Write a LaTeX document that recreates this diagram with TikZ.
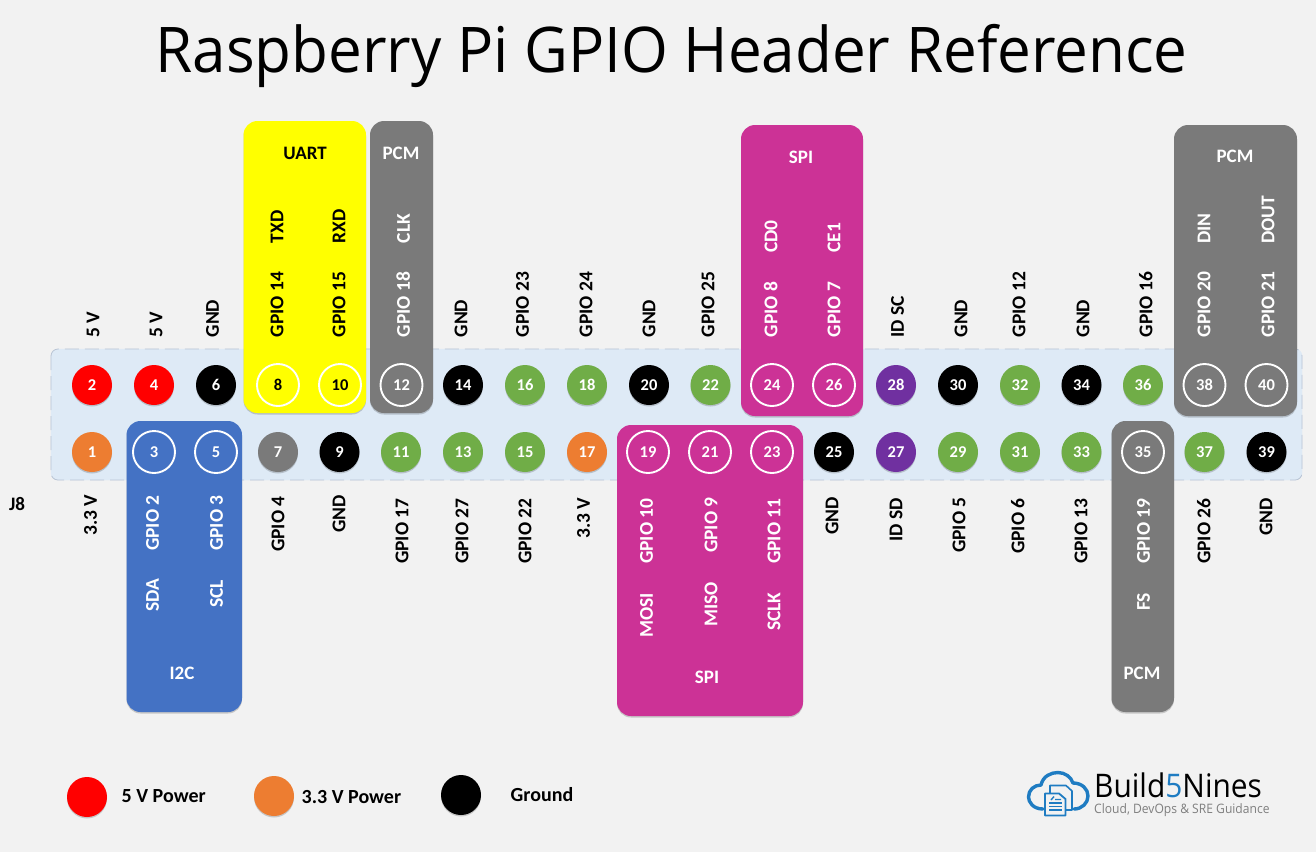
\documentclass[tikz,border=0pt]{standalone}
\usepackage{fontspec}
\setmainfont{Carlito}
\newfontfamily\titlefont{Open Sans}
\usetikzlibrary{shadows}
\definecolor{bgc}{HTML}{F2F2F2}
\definecolor{panelc}{HTML}{DEEAF6}
\definecolor{dashc}{HTML}{B9C4D4}
\definecolor{redc}{HTML}{FF0000}
\definecolor{orangec}{HTML}{ED7D31}
\definecolor{greenc}{HTML}{70AD47}
\definecolor{purplec}{HTML}{7030A0}
\definecolor{grayc}{HTML}{7A7A7A}
\definecolor{bluec}{HTML}{4472C4}
\definecolor{magc}{HTML}{CC3296}
\definecolor{yelc}{HTML}{FFFF00}
\definecolor{logoc}{HTML}{1F7CC2}
\definecolor{logog}{HTML}{7F7F7F}
\tikzset{
  softshadow/.style={drop shadow={shadow xshift=0pt,shadow yshift=-1.5pt,opacity=.18,fill=black}},
  groupbox/.style={rounded corners=14pt,softshadow},
  lbl/.style={rotate=90,anchor=west,inner sep=0pt,text height=12.6pt,text depth=0pt,font=\fontsize{19.5}{20}\selectfont\bfseries},
  grpcap/.style={inner sep=0pt,font=\fontsize{19}{20}\selectfont\bfseries},
  pinball/.style={circle,minimum size=40pt,inner sep=0pt,text=white,font=\fontsize{16.5}{17}\selectfont\bfseries},
  ringpin/.style={circle,minimum size=42pt,inner sep=0pt,draw=white,line width=1.9pt,font=\fontsize{16.5}{17}\selectfont\bfseries},
  legtext/.style={anchor=base west,inner sep=0pt,font=\fontsize{20}{21}\selectfont\bfseries,text=black},
}
\begin{document}
\begin{tikzpicture}[x=1pt,y=-1pt]
\useasboundingbox (0,0) rectangle (1316,852);
\fill[bgc] (0,0) rectangle (1316,852);
\node[anchor=base,inner sep=0pt,text=black,font=\titlefont\fontsize{63}{64}\selectfont,xscale=.955] (title) at (671.5,72) {Raspberry Pi GPIO Header Reference};
% header panel
\draw[panelc,fill=panelc,rounded corners=7pt] (51,349) rectangle (1302,480);
\draw[dashc,dash pattern=on 14pt off 6pt,line width=.8pt,rounded corners=7pt] (51,349) rectangle (1302,480);
% function groups
\fill[yelc,groupbox] (243.5,121) rectangle (366,413);
\fill[grayc,groupbox] (370,121) rectangle (433,413);
\fill[bluec,groupbox] (126.5,421) rectangle (242,712);
\fill[magc,groupbox] (617,425) rectangle (803,716);
\fill[magc,groupbox] (741,125) rectangle (863,416);
\fill[grayc,groupbox] (1174,125) rectangle (1297,416);
\fill[grayc,groupbox] (1111.5,421) rectangle (1174,712);
% plain pins
\foreach \n/\px/\py/\c/\tc in {
 2/92/385/redc/white,4/154/385/redc/white,6/216/385/black/white,14/463/385/black/white,
 16/525/385/greenc/white,18/587/385/greenc/white,20/649/385/black/white,22/710.5/385/greenc/white,
 28/896/385/purplec/white,30/958/385/black/white,32/1020/385/greenc/white,34/1081.5/385/black/white,36/1143/385/greenc/white,
 1/92/452/orangec/white,7/278/452/grayc/white,9/339.5/452/black/white,11/401/452/greenc/white,
 13/463/452/greenc/white,15/525/452/greenc/white,17/587/452/orangec/white,25/834/452/black/white,
 27/896/452/purplec/white,29/958/452/greenc/white,31/1020/452/greenc/white,33/1081.5/452/greenc/white,
 37/1204.5/452/greenc/white,39/1266.5/452/black/white}
 \node[pinball,fill=\c,text=\tc,softshadow] (pin\n) at (\px,\py) {\n};
% ringed pins
\foreach \n/\px/\py/\tc in {
 8/278/385/black,10/340/385/black,12/401.5/385/white,24/772/385/white,26/834/385/white,38/1204.5/385/white,40/1266.5/385/white,
 3/154/452/white,5/216/452/white,19/648/452/white,21/710/452/white,23/772/452/white,35/1143/452/white}
 \node[ringpin,text=\tc] (pin\n) at (\px,\py) {\n};
% black labels
\foreach \px/\py/\t [count=\i] in {
 93/337.5/5 V,156/337.5/5 V,212.5/337.5/GND,277/337.5/GPIO 14,339/337.5/GPIO 15,
 461/337.5/GND,522.5/337.5/GPIO 23,586/337.5/GPIO 24,649/337.5/GND,708/337.5/GPIO 25,
 897.5/337.5/ID SC,961/337.5/GND,1019/337.5/GPIO 12,1083/337.5/GND,1146/337.5/GPIO 16,
 277/243.5/TXD,339/243.5/RXD,
 90.5/536/3.3 V,278/552/GPIO 4,339/533/GND,402/564/GPIO 17,462/564/GPIO 27,525/564/GPIO 22,
 583.5/539/3.3 V,832/535/GND,896/542/ID SD,959/553/GPIO 5,1018/554/GPIO 6,1081/564/GPIO 13,
 1204/564/GPIO 26,1266/536/GND}
 \node[lbl,text=black] (blk\i) at (\px,\py) {\t};
% white labels
\foreach \px/\py/\t [count=\i] in {
 403.5/337.5/GPIO 18,403.5/243.5/CLK,771/337.5/GPIO 8,771/253/CD0,834/337.5/GPIO 7,834/253/CE1,
 1204/337.5/GPIO 20,1204/244/DIN,1268/337.5/GPIO 21,1268/244/DOUT,
 152.5/551/GPIO 2,216.5/551/GPIO 3,152.5/612/SDA,216.5/608/SCL,
 646.5/564/GPIO 10,711/553/GPIO 9,774/564/GPIO 11,646.5/638/MOSI,711/627/MISO,774/631/SCLK,
 1143.5/564/GPIO 19,1143.5/611/FS}
 \node[lbl,text=white] (wht\i) at (\px,\py) {\t};
% group captions
\node[grpcap,text=black] (capuart) at (305,153) {UART};
\node[grpcap,text=white] (cappcma) at (401,153) {PCM};
\node[grpcap,text=white] (capspia) at (801,157) {SPI};
\node[grpcap,text=white] (cappcmb) at (1235,156.5) {PCM};
\node[grpcap,text=white] (capitc) at (182,673) {I2C};
\node[grpcap,text=white] (capspib) at (707,677) {SPI};
\node[grpcap,text=white] (cappcmc) at (1142,673) {PCM};
\node[grpcap,text=black] (jeight) at (17,504) {J8};
% legend
\node[pinball,fill=redc,softshadow] (leg5) at (87,797) {};
\node[legtext] (leg5t) at (121.5,802) {5 V Power};
\node[pinball,fill=orangec,softshadow] (leg33) at (274,796) {};
\node[legtext] (leg33t) at (301.5,803) {3.3 V Power};
\node[pinball,fill=black,softshadow] (leggnd) at (461,795) {};
\node[legtext] (leggndt) at (510.5,801.5) {Ground};
% logo
\draw[logoc,line width=3.4pt,line cap=round,line join=round]
 (1043,809) .. controls (1033,809) and (1028.5,802) .. (1028.5,797)
 .. controls (1028.5,790) and (1034,785) .. (1041,785)
 .. controls (1043,776) and (1051,772.5) .. (1058,772.5)
 .. controls (1065,772.5) and (1071,777) .. (1073,783)
 .. controls (1082,783) and (1088,789) .. (1088,796)
 .. controls (1088,803) and (1082,809) .. (1074,809);
\draw[logoc,fill=bgc,line width=1.6pt,line join=round] (1050,785.5) -- (1066,785.5) -- (1072,791) -- (1072,810) -- (1050,810) -- cycle;
\draw[logoc,fill=bgc,line width=1.8pt,line join=round] (1045,793.5) -- (1059,793.5) -- (1065.5,799) -- (1065.5,815.5) -- (1045,815.5) -- cycle;
\foreach \ly in {803,806.5,810}
  \draw[logoc,line width=1.4pt] (1049,\ly) -- (1062,\ly);
\draw[logoc,line width=1.4pt] (1051,800) -- (1054,796.5) (1055,799.5) -- (1061,799.5);
\node[anchor=base west,inner sep=0pt,font=\titlefont\fontsize{32.5}{33}\selectfont,xscale=.92] (logoa) at (1094,797) {Build\textcolor{logoc}{5}Nines};
\node[anchor=base west,inner sep=0pt,text=logog,font=\titlefont\fontsize{13}{14}\selectfont,xscale=.93] (logob) at (1094,813.5) {Cloud, DevOps \& SRE Guidance};
\end{tikzpicture}
\end{document}
